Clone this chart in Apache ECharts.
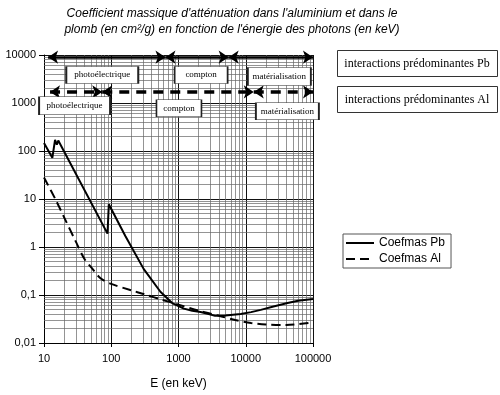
<!DOCTYPE html>
<html><head><meta charset="utf-8">
<script src="https://cdn.jsdelivr.net/npm/echarts@6/dist/echarts.min.js"></script>
<style>html,body{margin:0;padding:0;background:#fff}#c{width:500px;height:395px}</style>
</head><body><div id="c"></div>
<script>
// ---- data ----
const energiesPb = [10, 13.3, 14.6, 15.5, 16.3, 88, 92, 162, 303, 538, 805, 1200, 1600, 2130, 2800, 3500, 5000, 8400, 12000, 16700, 25000, 41900, 60000, 100000];
const coefPb     = [146, 72, 170, 135, 165, 1.9, 7.8, 1.7, 0.35, 0.117, 0.068, 0.052, 0.047, 0.0444, 0.040, 0.037, 0.0375, 0.0404, 0.044, 0.049, 0.057, 0.068, 0.076, 0.083];
const energiesAl = [10, 15, 20, 30, 40, 50, 70, 100, 200, 300, 600, 1000, 2000, 4000, 7000, 12000, 20000, 40000, 100000];
const coefAl     = [28, 9.5, 4.1, 1.26, 0.56, 0.38, 0.22, 0.17, 0.125, 0.105, 0.078, 0.063, 0.047, 0.037, 0.030, 0.026, 0.0243, 0.0236, 0.027];

const zoneNames = ['photoélectrique', 'compton', 'matérialisation'];
// energy limits of the predominant-interaction arrows
const pbLimits = [11.5, 640, 5570, 99900];
const alLimits = [12.3, 73.5, 13150, 99900];
const pbArrowLevel = 9000;
const alArrowLevel = 1700;
// annotation anchors (energy, coefficient) of the zone labels
const pbLabelE = [73.5, 2170, 31600];
const pbLabelV = [3830, 3830, 3570];
const alLabelE = [28.5, 1016, 41600];
const alLabelV = [875, 778, 676];

const xMin = 10, xMax = 100000, yMin = 0.01, yMax = 10000;
const seriesNames = ['Coefmas Pb', 'Coefmas Al'];
const titleText = "Coefficient massique d'atténuation dans l'aluminium et dans le\nplomb (en cm²/g) en fonction de l'énergie des photons (en keV)";
const xName = 'E (en keV)';
const sideLabels = ['interactions prédominantes Pb', 'interactions prédominantes Al'];

// ---- styles ----
const pbBoxSize = [[72, 17], [53, 17], [63, 18]];
const alBoxSize = [[71, 18], [45, 17], [63, 17]];

// minor grid positions (2..9 in each decade)
const minorX = [], minorY = [];
for (let d = xMin; d < xMax; d *= 10) for (let k = 2; k <= 9; k++) minorX.push(+(d * k).toPrecision(6));
for (let d = yMin; d < yMax * 0.99; d *= 10) for (let k = 2; k <= 9; k++) minorY.push(+(d * k).toPrecision(6));

const sans = 'Liberation Sans', serif = 'Liberation Serif';

function fmt(v) { return String(+(+v).toPrecision(6)).replace('.', ','); }

function arrows(limits, level, style) {
  const out = [];
  for (let i = 0; i < limits.length - 1; i++) {
    out.push([{ coord: [limits[i], level], lineStyle: style }, { coord: [limits[i + 1], level] }]);
  }
  return out;
}
function boxes(names, es, vs, sizes) {
  return names.map((n, i) => ({
    name: n, coord: [es[i], vs[i]], symbol: 'rect', symbolSize: sizes[i],
    itemStyle: { color: '#fff', borderColor: '#222', borderWidth: 1 },
    label: { show: true, position: 'inside', formatter: '{b}', color: '#000', fontFamily: serif, fontSize: 9 }
  }));
}

const chart = echarts.init(document.getElementById('c'), null, { renderer: 'canvas' });
chart.setOption({
  animation: false,
  backgroundColor: '#fff',
  grid: { left: 44, right: 187, top: 55, bottom: 46, containLabel: false },
  legend: {
    data: seriesNames, orient: 'vertical', left: 343, top: 234,
    borderColor: '#555', borderWidth: 1, padding: [3, 6, 3, 2],
    itemWidth: 28, itemHeight: 12, itemGap: 4,
    itemStyle: { opacity: 0 },
    textStyle: { fontFamily: sans, fontSize: 12, color: '#000' }
  },
  xAxis: {
    type: 'log', min: xMin, max: xMax, logBase: 10,
    name: xName, nameLocation: 'middle', nameGap: 35,
    nameTextStyle: { fontFamily: sans, fontSize: 12, color: '#000' },
    axisLine: { lineStyle: { color: '#000', width: 1 } },
    axisTick: { show: true, length: 4, lineStyle: { color: '#000' } },
    axisLabel: { fontFamily: sans, fontSize: 11, color: '#000', margin: 10, formatter: fmt },
    splitLine: { show: true, lineStyle: { color: '#111', width: 1 } }
  },
  yAxis: {
    type: 'log', min: yMin, max: yMax, logBase: 10,
    axisLine: { show: true, lineStyle: { color: '#000', width: 1 } },
    axisTick: { show: true, length: 5, lineStyle: { color: '#000' } },
    axisLabel: { fontFamily: sans, fontSize: 11, color: '#000', margin: 8, formatter: fmt },
    splitLine: { show: true, lineStyle: { color: '#111', width: 1 } }
  },
  graphic: [
    { type: 'text', x: 232, y: 6, style: { text: titleText, font: 'italic 12px "Liberation Sans"', textAlign: 'center', lineHeight: 16, fill: '#000' } },
    { type: 'rect', shape: { x: 337.5, y: 50.5, width: 160, height: 26 }, style: { fill: '#fff', stroke: '#333', lineWidth: 1 } },
    { type: 'text', x: 417, y: 63.5, style: { text: sideLabels[0], font: '12px "Liberation Serif"', textAlign: 'center', textVerticalAlign: 'middle', fill: '#000' } },
    { type: 'rect', shape: { x: 337.5, y: 86.5, width: 160, height: 26 }, style: { fill: '#fff', stroke: '#333', lineWidth: 1 } },
    { type: 'text', x: 417, y: 99.5, style: { text: sideLabels[1], font: '12px "Liberation Serif"', textAlign: 'center', textVerticalAlign: 'middle', fill: '#000' } }
  ],
  series: [
    {
      name: 'grille', type: 'line', data: [[xMin, yMin]], symbol: 'none', silent: true, z: 1,
      lineStyle: { opacity: 0 },
      markLine: {
        silent: true, symbol: ['none', 'none'], label: { show: false }, z: 1, animation: false,
        lineStyle: { color: '#666', width: 0.7, type: 'solid' },
        data: minorX.map(v => ({ xAxis: v })).concat(minorY.map(v => ({ yAxis: v })))
      }
    },
    {
      name: seriesNames[0], type: 'line', symbol: 'none', z: 3,
      data: energiesPb.map((e, i) => [e, coefPb[i]]),
      lineStyle: { color: '#000', width: 2, type: 'solid' }, itemStyle: { color: '#000' }
    },
    {
      name: seriesNames[1], type: 'line', symbol: 'none', z: 3, smooth: 0.3,
      data: energiesAl.map((e, i) => [e, coefAl[i]]),
      lineStyle: { color: '#000', width: 2, type: [9, 5] }, itemStyle: { color: '#000' }
    },
    {
      name: 'annotations', type: 'line', data: [[xMin, yMin]], symbol: 'none', silent: true, z: 5,
      lineStyle: { opacity: 0 },
      markLine: {
        silent: true, symbol: ['arrow', 'arrow'], symbolSize: 10, label: { show: false }, z: 5, animation: false,
        data: arrows(pbLimits, pbArrowLevel, { color: '#000', width: 2.5, type: 'solid' })
          .concat(arrows(alLimits, alArrowLevel, { color: '#000', width: 3.5, type: [10, 7] }))
      },
      markPoint: {
        silent: true, z: 6, animation: false,
        data: boxes(zoneNames, pbLabelE, pbLabelV, pbBoxSize).concat(boxes(zoneNames, alLabelE, alLabelV, alBoxSize))
      }
    }
  ]
});
</script></body></html>
